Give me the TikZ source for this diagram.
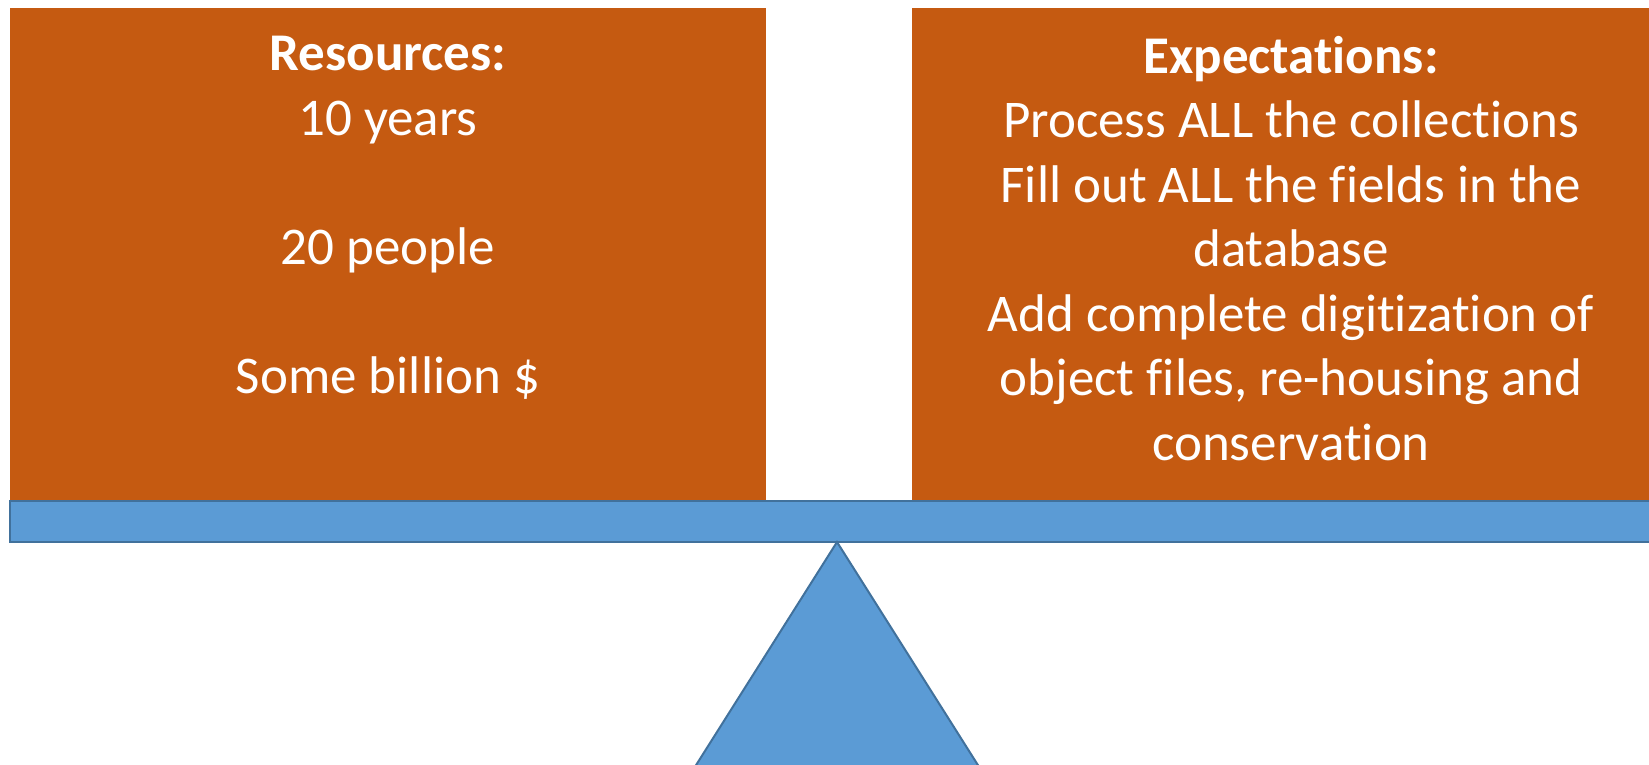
\documentclass[tikz,border=0pt]{standalone}
\usepackage{fontspec}
\setmainfont{Carlito}[Ligatures=NoCommon]
\definecolor{boxorange}{HTML}{C55A11}
\definecolor{beamblue}{HTML}{5B9BD5}
\definecolor{beamedge}{HTML}{41719C}
\tikzset{
  weight/.style={fill=boxorange},
  plank/.style={fill=beamblue, draw=beamedge, line width=2pt},
  words/.style={white, align=center, anchor=north, inner sep=0pt,
    font=\fontsize{53}{64.5}\selectfont}
}
\begin{document}
\begin{tikzpicture}[x=1pt,y=-1pt]
                \useasboundingbox (0,0) rectangle (1649,765);
                \clip (0,0) rectangle (1649,765);
                \fill[weight] (10,8) rectangle (766,501);
                \fill[weight] (912,8) rectangle (1670,501);
                \filldraw[plank] (10,501) rectangle (1680,542);
                \filldraw[plank] (837,542) -- (674,800) -- (1000,800) -- cycle;
                \node[words] (resources) at (388,36) {\textbf{Resources:}\\10 years\\[64.5pt]20 people\\[64.5pt]Some billion \$};
                \node[words] (expectations) at (1291,36) {\textbf{Expectations:}\\Process ALL the collections\\Fill out ALL the fields in the\\database\\Add complete digitization of\\object files, re-housing and\\conservation};
            \end{tikzpicture}
\end{document}
